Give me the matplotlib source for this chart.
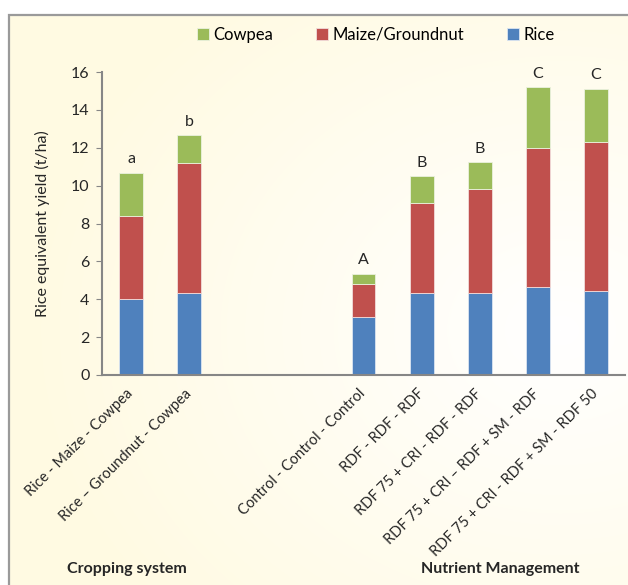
import numpy as np
import matplotlib
matplotlib.use("Agg")
import matplotlib.pyplot as plt
from matplotlib.patches import Rectangle

plt.rcParams['font.family'] = ['Lato', 'DejaVu Sans']

# yield components (t/ha rice equivalent)
labels = ["Rice - Maize - Cowpea", "Rice \u2013 Groundnut - Cowpea",
          "Control - Control - Control", "RDF - RDF - RDF",
          "RDF 75 + CRI - RDF - RDF", "RDF 75 + CRI \u2013 RDF + SM - RDF",
          "RDF 75 + CRI - RDF + SM - RDF 50"]
xpos = [0, 1, 4, 5, 6, 7, 8]
rice = [4.00, 4.31, 3.05, 4.31, 4.31, 4.63, 4.42]
maize = [4.39, 6.90, 1.77, 4.79, 5.53, 7.34, 7.90]
cowpea = [2.29, 1.44, 0.53, 1.39, 1.39, 3.22, 2.78]
letters = ["a", "b", "A", "B", "B", "C", "C"]

c_rice = "#4F81BD"
c_maize = "#C0504D"
c_cow = "#9BBB59"
grey = "#868686"
txt = "#262626"

fig = plt.figure(figsize=(6.28, 5.85), dpi=100)

# cream panel with a soft lighter spot
bg = fig.add_axes([0, 0, 1, 1], zorder=-2)
bg.set_axis_off()
yy, xx = np.mgrid[0:585, 0:628]
d = np.sqrt(((xx - 560) / 520.0) ** 2 + ((yy - 330) / 420.0) ** 2)
t = np.clip(d, 0, 1)
top = np.array([1.0, 1.0, 1.0])
cream = np.array([1.0, 0.982, 0.89])
img = top * (1 - t[..., None]) + cream * t[..., None]
img[:15, :, :] = 1.0
img[:, :8, :] = 1.0
bg.imshow(img, extent=[0, 1, 0, 1], aspect='auto', transform=bg.transAxes)
bg.set_xlim(0, 1)
bg.set_ylim(0, 1)
bg.add_patch(Rectangle((8.5 / 628, -0.1), 1.2, 1.1 - 15.5 / 585,
                       fill=False, edgecolor="#9a9a9a", linewidth=1.6,
                       transform=bg.transAxes))

ax = fig.add_axes([102 / 628, 1 - 375 / 585, 523 / 628, 303 / 585])
ax.patch.set_alpha(0)

w = 0.41
bot2 = np.array(rice) + np.array(maize)
ax.bar(xpos, rice, w, color=c_rice, edgecolor="#dbe5f1", linewidth=0.6, label="Rice")
ax.bar(xpos, maize, w, bottom=rice, color=c_maize, edgecolor="#f2dcdb", linewidth=0.6,
       label="Maize/Groundnut")
ax.bar(xpos, cowpea, w, bottom=bot2, color=c_cow, edgecolor="#ebf1de", linewidth=0.6,
       label="Cowpea")

totals = bot2 + np.array(cowpea)
for x, tt, s in zip(xpos, totals, letters):
    ax.text(x, tt + 0.35, s, ha='center', va='bottom', fontsize=11.5, color=txt)

ax.set_xlim(-0.5, 8.5)
ax.set_ylim(0, 16)
ax.set_yticks(range(0, 17, 2))
ax.set_xticks(xpos)
ax.set_xticklabels(labels, rotation=45, ha='right', va='center', rotation_mode='anchor',
                   fontsize=10.5, color=txt)
ax.tick_params(axis='x', length=0, pad=12)
ax.tick_params(axis='y', direction='out', length=4, color=grey, labelsize=11.5,
               labelcolor=txt, pad=5)
for sp in ["top", "right"]:
    ax.spines[sp].set_visible(False)
for sp in ["left", "bottom"]:
    ax.spines[sp].set_color(grey)
    ax.spines[sp].set_linewidth(1.5)
ax.set_ylabel("Rice equivalent yield (t/ha)", fontsize=11.5, color=txt, labelpad=15)

h, l = ax.get_legend_handles_labels()
fig.legend(h[::-1], l[::-1], loc='center', bbox_to_anchor=(0.598, 1 - 35 / 585), ncol=3,
           frameon=False, fontsize=12, handlelength=0.75, handleheight=0.75,
           handletextpad=0.25, columnspacing=2.55)

fig.text(127 / 628, 1 - 569 / 585, "Cropping system", ha='center', va='center',
         fontsize=11.5, fontweight='bold', color=txt)
fig.text(500 / 628, 1 - 569 / 585, "Nutrient Management", ha='center', va='center',
         fontsize=11.5, fontweight='bold', color=txt)

fig.savefig("out.png", dpi=100)
